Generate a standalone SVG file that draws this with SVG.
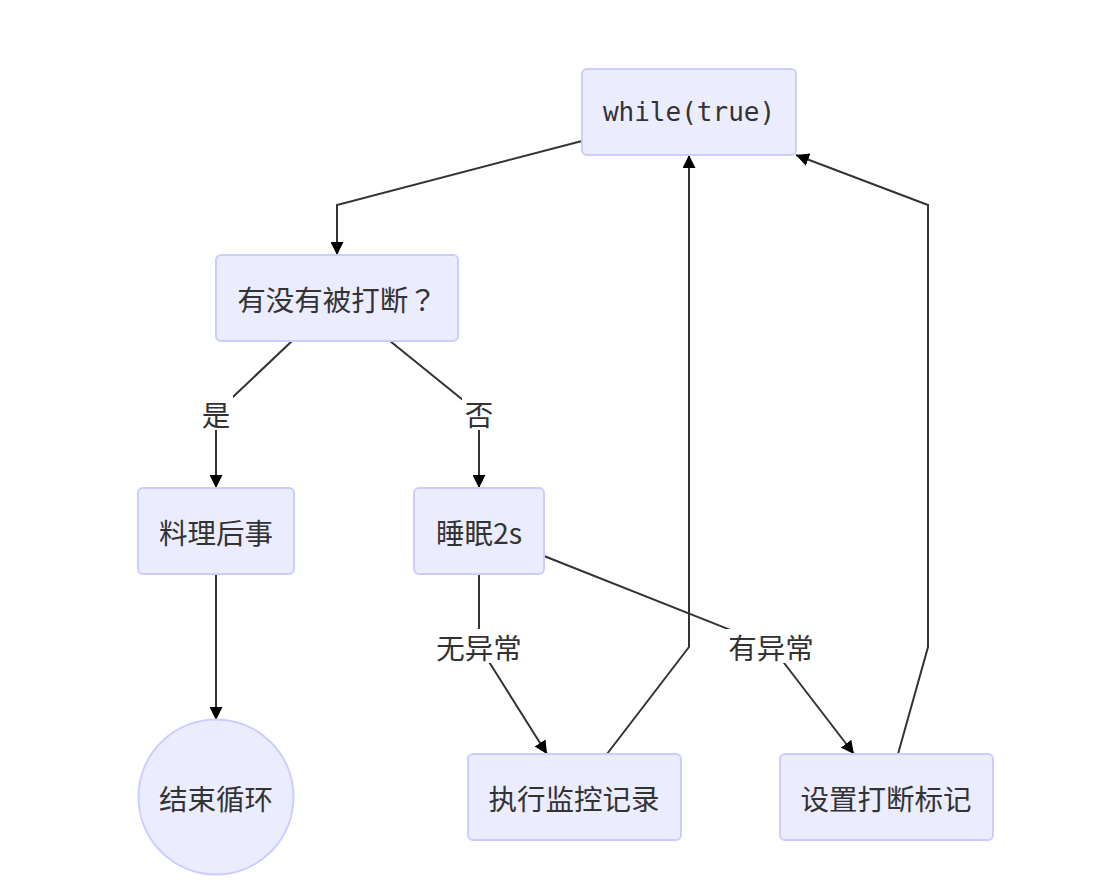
<svg xmlns="http://www.w3.org/2000/svg" width="1114" height="889" viewBox="0 0 1114 889">
<defs>
<style>
.node rect, .node circle { fill: #ECECFF; stroke: #CCCCFF; stroke-width: 2; }
.lbl { font-family: "Noto Sans CJK SC", "Noto Sans", sans-serif; font-size: 28.5px; fill: #333333; text-anchor: middle; dominant-baseline: central; }
.tc { font-family: "Noto Sans CJK TC", "Noto Sans CJK SC", sans-serif; }
.mono { font-family: "DejaVu Sans Mono", "Liberation Mono", monospace; font-size: 26px; fill: #333333; text-anchor: middle; dominant-baseline: central; }
.edge { fill: none; stroke: #333333; stroke-width: 2; }
.elbg { fill: #FFFFFF; }
</style>
<marker id="arr" viewBox="0 0 10 10" refX="10" refY="5" markerWidth="6.5" markerHeight="6.5" markerUnits="strokeWidth" orient="auto">
<path d="M0,0 L10,5 L0,10 z" fill="#000000"/>
</marker>
</defs>
<rect width="1114" height="889" fill="#FFFFFF"/>
<g id="connectors">
<path class="edge" d="M582,141 L337,205 L337,255" marker-end="url(#arr)"/>
<path class="edge" d="M292,341 L216,413 L216,488" marker-end="url(#arr)"/>
<path class="edge" d="M390,341 L479,413 L479,488" marker-end="url(#arr)"/>
<path class="edge" d="M216,574 L216,720" marker-end="url(#arr)"/>
<path class="edge" d="M479,574 L479,646 L547,754" marker-end="url(#arr)"/>
<path class="edge" d="M544,556 L771,646 L854,754" marker-end="url(#arr)"/>
<path class="edge" d="M607,754 L689,647 L689,155" marker-end="url(#arr)"/>
<path class="edge" d="M898,754 L928,647 L928,205 L796,155" marker-end="url(#arr)"/>
<rect class="elbg" x="199" y="396" width="34" height="34"/>
<text class="lbl" x="216" y="413">是</text>
<rect class="elbg" x="462" y="396" width="34" height="34"/>
<text class="lbl" x="479" y="413">否</text>
<rect class="elbg" x="434" y="629" width="90" height="34"/>
<text class="lbl" x="479" y="646">无异常</text>
<rect class="elbg" x="726" y="629" width="90" height="34"/>
<text class="lbl" x="771" y="646">有异常</text>
</g>
<g id="n_while" class="node">
<rect x="582" y="69" width="214" height="86" rx="5" ry="5"/>
<text class="mono" x="689" y="112">while(true)</text>
</g>
<g id="n_check" class="node">
<rect x="216" y="255" width="242" height="86" rx="5" ry="5"/>
<text class="lbl tc" x="337" y="298">有没有被打断？</text>
</g>
<g id="n_cleanup" class="node">
<rect x="138" y="488" width="156" height="86" rx="5" ry="5"/>
<text class="lbl" x="216" y="531">料理后事</text>
</g>
<g id="n_sleep" class="node">
<rect x="414" y="488" width="130" height="86" rx="5" ry="5"/>
<text class="lbl" x="479" y="531">睡眠2s</text>
</g>
<g id="n_end" class="node">
<circle cx="216" cy="797" r="77.5"/>
<text class="lbl" x="216" y="797">结束循环</text>
</g>
<g id="n_monitor" class="node">
<rect x="468" y="754" width="213" height="86" rx="5" ry="5"/>
<text class="lbl" x="574" y="797">执行监控记录</text>
</g>
<g id="n_flag" class="node">
<rect x="780" y="754" width="213" height="86" rx="5" ry="5"/>
<text class="lbl" x="886" y="797">设置打断标记</text>
</g>
</svg>
